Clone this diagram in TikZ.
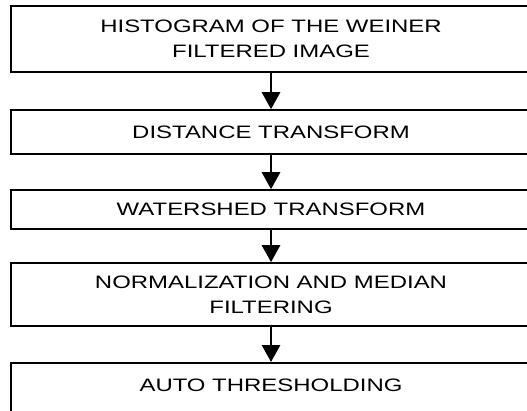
\documentclass[tikz,border=0pt]{standalone}
\usepackage{fontspec}
\setmainfont{Liberation Sans}
\newfontfamily\boxfont[FakeStretch=1.33]{Liberation Sans}
\usetikzlibrary{arrows.meta}

\begin{document}
\begin{tikzpicture}[x=1bp,y=-1bp,
    stepbox/.style={draw,line width=1.6bp,minimum width=520bp,inner sep=0pt,
      align=center,font=\boxfont\fontsize{18bp}{25bp}\selectfont},
    flow/.style={-{Triangle[length=17bp,width=18bp]},line width=2.8bp}]
             \useasboundingbox (0,0) rectangle (527,410);
             \clip (0,0) rectangle (527,410);

             \node[stepbox,minimum height=66bp] (hist) at (271,39) {HISTOGRAM OF THE WEINER\\FILTERED IMAGE};
             \node[stepbox,minimum height=44bp] (dist) at (271,132) {DISTANCE TRANSFORM};
             \node[stepbox,minimum height=39bp] (water) at (271,209.5) {WATERSHED TRANSFORM};
             \node[stepbox,minimum height=63bp] (norm) at (271,294.5) {NORMALIZATION AND MEDIAN\\FILTERING};
             \node[stepbox,anchor=north,inner ysep=16bp,text height=12.5bp,text depth=60bp] (thresh) at (271,362) {AUTO THRESHOLDING};

             \draw[flow] (hist) -- (dist);
             \draw[flow] (dist) -- (water);
             \draw[flow] (water) -- (norm);
             \draw[flow] (norm) -- (thresh);
             \end{tikzpicture}
\end{document}
